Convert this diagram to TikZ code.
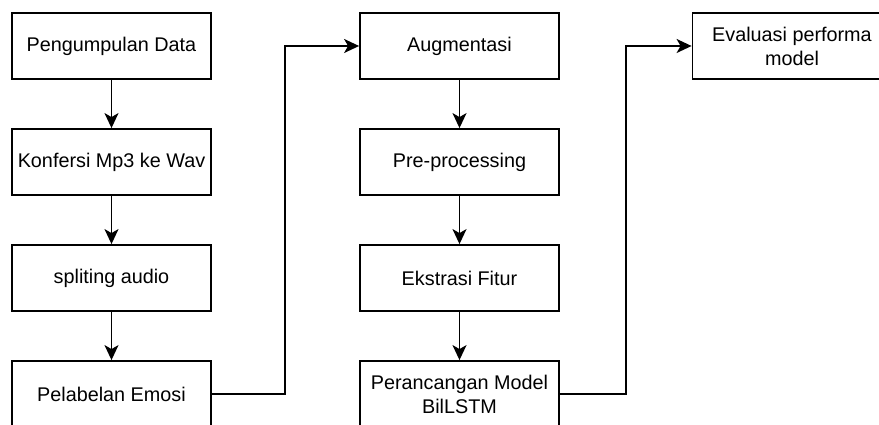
\documentclass[tikz,border=0pt]{standalone}
\usepackage{fontspec}
\setmainfont{Liberation Sans}
\usetikzlibrary{arrows.meta}
\begin{document}
\begin{tikzpicture}[x=1pt,y=1pt,
  box/.style={draw, line width=1.8pt, minimum width=199pt, minimum height=66pt, inner sep=0pt, align=center, font=\fontsize{19.8}{24}\selectfont},
  conn/.style={line width=1.8pt, -{Stealth[length=15pt,width=14pt,inset=4pt]}}]
\useasboundingbox (0,0) rectangle (879,425);
\fill[white] (0,0) rectangle (879,425);
\node[box] (a1) at (111.5,379) {Pengumpulan Data};
\node[box] (a2) at (111.5,263) {Konfersi Mp3 ke Wav};
\node[box] (a3) at (111.5,147) {spliting audio};
\node[box] (a4) at (111.5,31) {Pelabelan Emosi};
\node[box] (b1) at (459.5,379) {Augmentasi};
\node[box] (b2) at (459.5,263) {Pre-processing};
\node[box] (b3) at (459.5,147) {Ekstrasi Fitur};
\node[box] (b4) at (459.5,31) {Perancangan Model\\BilLSTM};
\node[box] (c1) at (792,379) {Evaluasi performa\\model};
\draw[conn] (a1) -- (a2);
\draw[conn] (a2) -- (a3);
\draw[conn] (a3) -- (a4);
\draw[conn] (b1) -- (b2);
\draw[conn] (b2) -- (b3);
\draw[conn] (b3) -- (b4);
\draw[conn] (a4.east) -- (285,31) |- (b1.west);
\draw[conn] (b4.east) -- (626,31) |- (c1.west);
\end{tikzpicture}
\end{document}
